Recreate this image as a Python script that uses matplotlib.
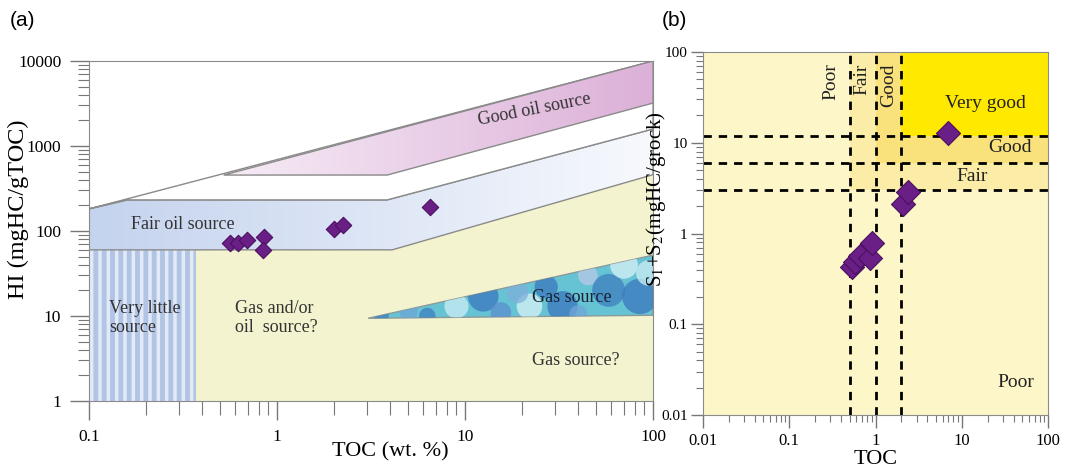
import numpy as np
import matplotlib
matplotlib.use("Agg")
import matplotlib.pyplot as plt
from matplotlib.patches import Polygon, Rectangle

plt.rcParams['font.family'] = ['Liberation Serif', 'DejaVu Serif']
plt.rcParams['mathtext.fontset'] = 'stix'
plt.rcParams['hatch.linewidth'] = 3.5

# ---- panel (a) data: HI vs TOC ----
toc_a = [0.56, 0.62, 0.69, 0.85, 0.84, 2.01, 2.24, 6.5]
hi_a = [72, 72, 78, 85, 60, 106, 118, 191]

# region outlines (TOC, HI)
fair_oil_x = [0.1, 0.1, 0.16, 3.85, 100, 100, 4.1]
fair_oil_y = [60, 182, 232, 232, 1585, 460, 60]
white_band_x = [0.1, 100, 100, 3.85, 0.16]
white_band_y = [182, 10000, 1585, 232, 232]
good_oil_x = [0.52, 100, 100, 3.85]
good_oil_y = [455, 10000, 3200, 455]
gas_oil_x = [0.37, 0.37, 4.1, 100, 100]
gas_oil_y = [1, 60, 60, 460, 1]
little_x = [0.1, 0.1, 0.37, 0.37]
little_y = [1, 60, 60, 1]
gas_x = [3.05, 100, 100]
gas_y = [9.4, 52, 10.2]

# decorative bubbles for the gas source pattern (TOC, HI, size, colour)
bubble_x = [3.6, 5.0, 6.3, 9.0, 12.5, 15.5, 22, 27, 33, 45, 58, 70, 85, 95, 40, 19]
bubble_y = [10.3, 11.5, 10.0, 13, 17, 11, 13, 22, 13, 30, 20, 40, 17, 32, 10.5, 19]
bubble_s = [110, 180, 140, 300, 480, 220, 340, 280, 480, 200, 560, 400, 650, 340, 170, 250]
bubble_c = ['#3f7fc0', '#6fa6d8', '#3f7fc0', '#cdeef5', '#3a78bd', '#5a8fce', '#d8f2f7',
            '#3a78bd', '#3a78bd', '#b9c9e8', '#3f7fc0', '#d8f2f7', '#3a78bd', '#cdeef5',
            '#6fa6d8', '#7fb0db']

# ---- panel (b) data: S1+S2 vs TOC ----
toc_b = [0.54, 0.58, 0.66, 0.87, 0.91, 2.08, 2.38, 6.9]
s1s2_b = [0.43, 0.49, 0.57, 0.54, 0.78, 2.11, 2.87, 12.8]
toc_limits = [0.5, 1, 2]
s1s2_limits = [3, 6, 12]

fig = plt.figure(figsize=(10.82, 4.68), dpi=100)
ax = fig.add_axes([0.0823, 0.1432, 0.5213, 0.7265])
bx = fig.add_axes([0.6497, 0.1132, 0.3189, 0.7756])

# ================= panel (a) =================
ax.set_xscale('log')
ax.set_yscale('log')
ax.set_xlim(0.1, 100)
ax.set_ylim(1, 10000)
edge = '#8a8a8a'


def region(x, y, **kw):
    p = Polygon(np.column_stack([x, y]), closed=True, **kw)
    ax.add_patch(p)
    return p


def gradient(patch, c0, c1, zorder):
    c0 = np.array(matplotlib.colors.to_rgb(c0))
    c1 = np.array(matplotlib.colors.to_rgb(c1))
    t = np.linspace(0, 1, 256)[None, :, None]
    img = c0 + (c1 - c0) * t
    im = ax.imshow(img, extent=(0, 1, 0, 1), transform=ax.transAxes,
                   aspect='auto', zorder=zorder, interpolation='bilinear')
    im.set_clip_path(patch)


region(gas_oil_x, gas_oil_y, facecolor='#f3f3cf', edgecolor='none', zorder=1)
region(little_x, little_y, facecolor='#e3eaf7', edgecolor='#b2c4e6',
       hatch='||', linewidth=0, zorder=1)

p = region(fair_oil_x, fair_oil_y, facecolor='none', edgecolor=edge, lw=1.0, zorder=3)
gradient(p, '#c4d3ee', '#f7f9fd', 2)
region(white_band_x, white_band_y, facecolor='white', edgecolor=edge, lw=1.0, zorder=3)
p = region(good_oil_x, good_oil_y, facecolor='none', edgecolor=edge, lw=1.0, zorder=5)
gradient(p, '#ffffff', '#dcb0d8', 4)

p = region(gas_x, gas_y, facecolor='#66c3d3', edgecolor='#8a9a9a', lw=1.0, zorder=6)
sc = ax.scatter(bubble_x, bubble_y, s=bubble_s, c=bubble_c, alpha=0.75,
                edgecolors='none', zorder=6.5)
sc.set_clip_path(p)

ax.scatter(toc_a, hi_a, marker='D', s=70, color='#6a1f86', edgecolors='#4a1060',
           linewidths=0.8, zorder=10)

tc = '#333333'
ax.text(23.5, 2640, 'Good oil source', fontsize=13, color=tc, ha='center',
        va='center', rotation=11, zorder=7)
ax.text(0.316, 120, 'Fair oil source', fontsize=13, color=tc, ha='center',
        va='center', zorder=7)
ax.text(0.128, 9.5, 'Very little\nsource', fontsize=13, color=tc, ha='left',
        va='center', linespacing=1.1, zorder=7)
ax.text(0.6, 9.5, 'Gas and/or\noil  source?', fontsize=13, color=tc, ha='left',
        va='center', linespacing=1.1, zorder=7)
ax.text(37, 16.3, 'Gas source', fontsize=13, color='#1a2230', ha='center',
        va='center', zorder=7)
ax.text(39, 3.0, 'Gas source?', fontsize=13, color=tc, ha='center',
        va='center', zorder=7)

for s in ax.spines.values():
    s.set_color(edge)
    s.set_zorder(8)
ax.set_xticks([0.1, 1, 10, 100])
ax.set_xticklabels(['0.1', '1', '10', '100'])
ax.set_yticks([1, 10, 100, 1000, 10000])
ax.set_yticklabels(['1', '10', '100', '1000', '10000'])
ax.tick_params(which='major', length=14, width=1.0, color='#777777',
               labelsize=12.5, pad=6)
ax.tick_params(which='minor', length=10, width=0.8, color='#777777')
ax.tick_params(axis='y', which='minor', length=8)
ax.set_ylabel('HI (mgHC/gTOC)', fontsize=17.5)
ax.yaxis.set_label_coords(-0.106, 0.565)
ax.set_xlabel('TOC (wt. %)', fontsize=16)
ax.xaxis.set_label_coords(0.534, -0.12)
fig.text(0.009, 0.945, '(a)', fontsize=15, family='Liberation Sans')

# ================= panel (b) =================
bx.set_xscale('log')
bx.set_yscale('log')
bx.set_xlim(0.01, 100)
bx.set_ylim(0.01, 100)
bx.set_facecolor('#fdf6c8')
zone_colors = ['#fbeca8', '#f9e17c', '#ffe900']
for xl, yl, zc in zip(toc_limits, s1s2_limits, zone_colors):
    bx.add_patch(Rectangle((xl, yl), 100 - xl, 100 - yl, facecolor=zc,
                           edgecolor='none', zorder=1))
for xl in toc_limits:
    bx.axvline(xl, color='black', lw=2, ls=(0, (3, 2.5)), zorder=3)
for yl in s1s2_limits:
    bx.axhline(yl, color='black', lw=2, ls=(0, (3, 2.5)), zorder=3)

bx.scatter(toc_b, s1s2_b, marker='D', s=150, color='#6a1f86', edgecolors='#4a1060',
           linewidths=0.8, zorder=10)

bx.text(0.3, 75, 'Poor', fontsize=14, rotation=90, ha='center', va='top', color='#222222', zorder=4)
bx.text(0.7, 75, 'Fair', fontsize=14, rotation=90, ha='center', va='top', color='#222222', zorder=4)
bx.text(1.41, 75, 'Good', fontsize=14, rotation=90, ha='center', va='top', color='#222222', zorder=4)
bx.text(19, 27, 'Very good', fontsize=14, ha='center', va='center', color='#222222', zorder=4)
bx.text(36, 8.9, 'Good', fontsize=14, ha='center', va='center', color='#222222', zorder=4)
bx.text(13, 4.3, 'Fair', fontsize=14, ha='center', va='center', color='#222222', zorder=4)
bx.text(42, 0.023, 'Poor', fontsize=14, ha='center', va='center', color='#222222', zorder=4)

for s in bx.spines.values():
    s.set_color(edge)
    s.set_zorder(8)
bx.set_xticks([0.01, 0.1, 1, 10, 100])
bx.set_xticklabels(['0.01', '0.1', '1', '10', '100'])
bx.set_yticks([0.01, 0.1, 1, 10, 100])
bx.set_yticklabels(['0.01', '0.1', '1', '10', '100'])
bx.tick_params(which='major', length=9, width=1.0, color='#777777',
               labelsize=11, pad=2)
bx.tick_params(axis='x', which='major', labelsize=12, pad=4)
bx.tick_params(which='minor', length=5, width=0.8, color='#777777')
bx.set_ylabel('S$_1$+S$_2$(mgHC/grock)', fontsize=15)
bx.yaxis.set_label_coords(-0.101, 0.595)
bx.set_xlabel('TOC', fontsize=16)
bx.xaxis.set_label_coords(0.5, -0.095)
fig.text(0.612, 0.945, '(b)', fontsize=15, family='Liberation Sans')

fig.savefig('out.png', dpi=100)
